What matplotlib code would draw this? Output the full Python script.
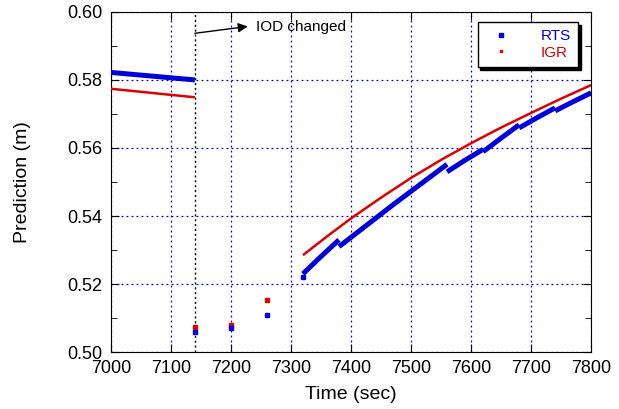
import numpy as np
import matplotlib.pyplot as plt
from matplotlib.ticker import MultipleLocator

plt.rcParams['font.family'] = ['Liberation Sans', 'DejaVu Sans']

# RTS prediction (segments split at each IOD / jump)
rts_segments = [
    ([7000, 7140], [0.5822, 0.5800]),
    ([7320, 7350, 7380], [0.5230, 0.5281, 0.5330]),
    ([7380, 7470, 7560], [0.5310, 0.5433, 0.5552]),
    ([7560, 7590, 7620], [0.5530, 0.5564, 0.5596]),
    ([7620, 7650, 7680], [0.5589, 0.5629, 0.5668]),
    ([7680, 7710, 7740], [0.5659, 0.5689, 0.5718]),
    ([7740, 7770, 7800], [0.5709, 0.5736, 0.5762]),
]
rts_iso_t = [7140, 7200, 7260, 7320]
rts_iso_v = [0.5060, 0.5070, 0.5109, 0.5220]

# IGR prediction
igr_segments = [
    ([7000, 7140], [0.5774, 0.5749]),
    ([7320, 7360, 7400, 7450, 7500, 7550, 7600, 7650, 7700, 7750, 7800],
     [0.5285, 0.5340, 0.5393, 0.5454, 0.5512, 0.5565, 0.5614, 0.5660, 0.5703, 0.5745, 0.5785]),
]
igr_iso_t = [7140, 7200, 7260]
igr_iso_v = [0.5074, 0.5081, 0.5153]

iod_time = 7140

fig = plt.figure(figsize=(6.19, 4.09), dpi=100)
ax = fig.add_axes([0.179, 0.139, 0.776, 0.832])

for t, v in rts_segments:
    ax.plot(t, v, color='#0000dd', lw=3.6, solid_capstyle='butt', zorder=4)
ax.plot(rts_iso_t, rts_iso_v, ls='none', marker='s', ms=3.2, color='#0000dd', zorder=4)
for t, v in igr_segments:
    ax.plot(t, v, color='#dd0000', lw=1.8, solid_capstyle='butt', zorder=3)
ax.plot(igr_iso_t, igr_iso_v, ls='none', marker='s', ms=2.2, color='#dd0000', zorder=3)

# legend proxies
ax.plot([], [], ls='none', marker='s', ms=2.5, color='#0000dd', label='RTS')
ax.plot([], [], ls='none', marker='s', ms=2.0, color='#dd0000', label='IGR')

ax.axvline(iod_time, color='black', ls=(0, (1.5, 2)), lw=1.0, zorder=2)
ax.text(7242, 0.5955, 'IOD changed', fontsize=11, va='center', ha='left')
ax.annotate('', xy=(7228, 0.5957), xytext=(7140, 0.5937),
            arrowprops=dict(arrowstyle='-|>', color='black', lw=1.0,
                            mutation_scale=14, shrinkA=0, shrinkB=0))

ax.set_xlim(7000, 7800)
ax.set_ylim(0.50, 0.60)
ax.xaxis.set_major_locator(MultipleLocator(100))
ax.yaxis.set_major_locator(MultipleLocator(0.02))
ax.yaxis.set_minor_locator(MultipleLocator(0.01))
ax.yaxis.set_major_formatter(plt.FormatStrFormatter('%.2f'))
ax.tick_params(which='both', direction='in', top=True, right=True, labelsize=13)
ax.tick_params(which='major', length=6, pad=6)
ax.tick_params(which='minor', length=4)
ax.grid(True, which='major', color='#0000dd', ls=(0, (1.5, 2.5)), lw=0.9, zorder=1)

ax.set_xlabel('Time (sec)', fontsize=14, labelpad=6)
ax.set_ylabel('Prediction (m)', fontsize=14, labelpad=26)

leg = ax.legend(loc='upper right', bbox_to_anchor=(0.973, 0.971), borderaxespad=0,
                fontsize=11, frameon=True, fancybox=False,
                shadow={'color': 'black', 'alpha': 1},
                handletextpad=1.6, borderpad=0.5, labelspacing=0.15)
leg.get_frame().set_edgecolor('black')
leg.get_frame().set_linewidth(1.0)
for txt, c in zip(leg.get_texts(), ['#0000dd', '#dd0000']):
    txt.set_color(c)

fig.savefig('out.png', dpi=100)
